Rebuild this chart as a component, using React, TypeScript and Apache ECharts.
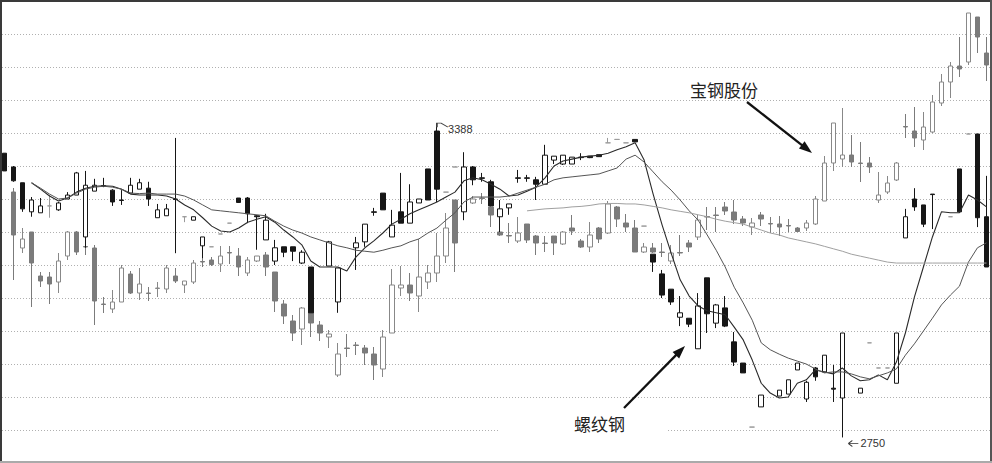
import React, { useEffect, useRef } from "react";
import * as echarts from "echarts";

// 螺纹钢 (rebar futures) daily candles: [open, close, low, high]; null = no candle drawn
const rebarOHLC: (number[] | null)[] = [
  // 0-9
  [3327, 3291, 3291, 3327], [3299, 3271, 3269, 3301], [3267, 3214, 3208, 3267], [3208, 3232, 3198, 3238], [3206, 3220, 3206, 3236],
  [3220, 3220, 3196, 3242], [3212, 3226, 3210, 3228], [3234, 3242, 3234, 3248], [3242, 3287, 3242, 3289], [3157, 3262, 3135, 3291],
  // 10-19
  [3250, 3262, 3250, 3275], [3261, 3260, 3258, 3277], [3252, 3228, 3220, 3254], [3232, 3231, 3222, 3252], [3246, 3262, 3246, 3277],
  [3254, 3267, 3254, 3275], [3256, 3234, 3220, 3269], [3196, 3212, 3196, 3224], [3200, 3214, 3200, 3224], [3234, 3233, 3124, 3358],
  // 20-29
  [3198, 3198, 3187, 3198], [3191, 3198, 3191, 3198], [3139, 3157, 3114, 3157], [3137, 3137, 3137, 3137], [3163, 3163, 3163, 3163],
  [3185, 3185, 3185, 3185], [3236, 3227, 3226, 3236], [3236, 3204, 3185, 3238], [3200, 3198, 3131, 3202], [3151, 3191, 3151, 3204],
  // 30-39
  [3108, 3135, 3100, 3151], [3137, 3126, 3116, 3137], [3137, 3128, 3108, 3137], [3104, 3126, 3102, 3130], [3096, 3003, 3003, 3096],
  null, [3098, 3147, 3098, 3149], [3025, 3094, 3003, 3094], null, [3135, 3145, 3090, 3157],
  // 40-49
  [3147, 3183, 3137, 3183], [3208, 3207, 3200, 3216], [3246, 3212, 3212, 3246], [3157, 3181, 3157, 3212], [3208, 3185, 3185, 3287],
  [3185, 3228, 3185, 3264], [3226, 3234, 3226, 3234], [3295, 3232, 3232, 3295], [3372, 3254, 3228, 3388], [3248, 3248, 3248, 3248],
  // 50-59
  [3299, 3299, 3299, 3299], [3208, 3299, 3191, 3329], [3299, 3273, 3262, 3301], [3277, 3276, 3269, 3287], [3269, 3220, 3220, 3273],
  [3198, 3214, 3167, 3232], [3216, 3224, 3202, 3224], [3277, 3276, 3267, 3293], [3277, 3276, 3269, 3283], [3273, 3264, 3232, 3279],
  // 60-69
  [3264, 3323, 3264, 3344], [3313, 3321, 3305, 3321], [3305, 3323, 3303, 3323], [3305, 3319, 3305, 3319], [3319, 3318, 3313, 3327],
  [3321, 3318, 3317, 3321], [3324, 3320, 3320, 3324], [3348, 3348, 3348, 3358], [3355, 3355, 3355, 3355], [3348, 3348, 3348, 3348],
  // 70-79
  [3355, 3350, 3350, 3355], [3179, 3179, 3179, 3179], [3122, 3106, 3086, 3122], [3082, 3039, 3033, 3090], [3051, 3025, 3019, 3051],
  [2994, 3003, 2976, 3037], [2992, 2980, 2974, 2992], [2930, 3017, 2930, 3043], [3074, 3001, 2962, 3074], [2982, 3019, 2972, 3021],
  // 80-89
  [3013, 2976, 2974, 3037], [2944, 2903, 2895, 2964], [2901, 2881, 2881, 2901], [2771, 2771, 2771, 2771], [2812, 2836, 2812, 2836],
  null, [2834, 2846, 2834, 2846], [2838, 2867, 2838, 2867], [2887, 2901, 2887, 2901], [2828, 2862, 2822, 2865],
  // 90-99
  [2891, 2873, 2865, 2893], [2883, 2917, 2883, 2917], [2850, 2848, 2822, 2897], [2830, 2962, 2750, 2962], null,
  [2840, 2850, 2840, 2850], [2942, 2942, 2942, 2942], [2891, 2891, 2891, 2891], [2891, 2891, 2891, 2891], [2860, 2962, 2860, 2962],
  // 100-109
  [3155, 3198, 3155, 3214], [3234, 3218, 3210, 3256], [3222, 3183, 3177, 3222], [3244, 3243, 3173, 3244], null,
  [3198, 3198, 3198, 3198], [3295, 3208, 3208, 3295], [3366, 3366, 3366, 3366], [3366, 3196, 3177, 3366], [3198, 3096, 3096, 3281],
];

// 宝钢股份 (Baosteel) daily candles: [open, close, low, high]
const baoOHLC: (number[] | null)[] = [
  // 0-9
  null, [6.08, 5.65, 5.2, 6.12], [5.52, 5.61, 5.47, 5.72], [5.68, 5.37, 4.93, 5.68], [5.24, 5.19, 5.13, 5.28],
  [5.23, 5.16, 4.96, 5.28], [5.18, 5.39, 5.07, 5.47], [5.44, 5.68, 5.4, 5.69], [5.68, 5.48, 5.45, 5.69], [5.535, 5.53, 5.45, 5.6],
  // 10-19
  [5.52, 4.99, 4.75, 5.55], [4.96, 4.955, 4.87, 5.03], [4.91, 4.98, 4.87, 5.1], [4.98, 5.32, 4.98, 5.35], [5.26, 5.07, 5.06, 5.29],
  [5.07, 5.16, 5.0, 5.32], [5.07, 5.065, 4.99, 5.13], [5.115, 5.12, 5.03, 5.18], [5.11, 5.32, 5.07, 5.35], [5.24, 5.19, 5.17, 5.32],
  // 20-29
  [5.15, 5.19, 5.07, 5.19], [5.18, 5.37, 5.16, 5.4], [5.385, 5.38, 5.33, 5.43], [5.4, 5.355, 5.34, 5.43], [5.36, 5.44, 5.28, 5.54],
  [5.475, 5.47, 5.36, 5.54], [5.44, 5.33, 5.24, 5.52], [5.27, 5.4, 5.24, 5.43], [5.39, 5.44, 5.38, 5.44], [5.45, 5.33, 5.24, 5.48],
  // 30-39
  [5.28, 4.99, 4.88, 5.28], [4.96, 4.84, 4.76, 5.0], [4.79, 4.67, 4.59, 4.85], [4.71, 4.92, 4.55, 4.93], [4.88, 4.77, 4.63, 4.88],
  [4.75, 4.67, 4.59, 4.79], [4.63, 4.66, 4.52, 4.7], [4.25, 4.46, 4.23, 4.57], [4.52, 4.515, 4.43, 4.66], [4.55, 4.545, 4.45, 4.58],
  // 40-49
  [4.52, 4.47, 4.35, 4.55], [4.46, 4.35, 4.2, 4.53], [4.31, 4.63, 4.23, 4.7], [4.67, 5.15, 4.67, 5.31], [5.12, 5.15, 5.04, 5.34],
  [5.15, 5.07, 4.99, 5.27], [5.04, 5.23, 4.88, 5.61], [5.18, 5.27, 5.11, 5.35], [5.27, 5.44, 5.18, 5.67], [5.44, 5.72, 5.37, 5.87],
  // 50-59
  [6.0, 5.57, 5.28, 6.0], [5.95, 6.0, 5.9, 6.05], [5.97, 6.01, 5.96, 6.04], [6.02, 6.015, 5.96, 6.07], [5.93, 5.85, 5.73, 6.0],
  [5.68, 5.65, 5.64, 5.69], [5.645, 5.64, 5.57, 5.77], [5.59, 5.67, 5.57, 5.83], [5.76, 5.6, 5.57, 5.76], [5.64, 5.57, 5.45, 5.65],
  // 60-69
  [5.57, 5.565, 5.48, 5.64], [5.64, 5.57, 5.45, 5.64], [5.56, 5.68, 5.55, 5.69], [5.72, 5.69, 5.65, 5.85], [5.59, 5.53, 5.52, 5.61],
  [5.53, 5.65, 5.48, 5.78], [5.72, 5.61, 5.57, 5.73], [5.67, 5.96, 5.66, 5.99], [5.93, 5.81, 5.73, 5.94], [5.77, 5.73, 5.68, 5.86],
  // 70-79
  [5.72, 5.48, 5.48, 5.8], [5.48, 5.53, 5.47, 5.57], [5.52, 5.48, 5.47, 5.57], [5.48, 5.475, 5.43, 5.57], [5.39, 5.47, 5.36, 5.55],
  [5.475, 5.47, 5.44, 5.65], [5.57, 5.53, 5.48, 5.6], [5.63, 5.8, 5.6, 5.85], [5.835, 5.83, 5.7, 5.93], [5.85, 5.845, 5.68, 5.93],
  // 80-89
  [5.93, 5.89, 5.85, 5.98], [5.88, 5.8, 5.76, 6.0], [5.81, 5.77, 5.74, 5.84], [5.73, 5.77, 5.65, 5.82], [5.85, 5.81, 5.74, 5.88],
  [5.765, 5.76, 5.67, 5.83], [5.76, 5.73, 5.64, 5.84], [5.745, 5.74, 5.68, 5.81], [5.72, 5.685, 5.68, 5.73], [5.72, 5.77, 5.69, 5.8],
  // 90-99
  [5.76, 6.01, 5.75, 6.04], [5.99, 6.37, 5.99, 6.44], [6.37, 6.77, 6.29, 6.77], [6.41, 6.45, 6.33, 6.92], [6.45, 6.38, 6.33, 6.65],
  [6.37, 6.365, 6.18, 6.58], [6.37, 6.33, 6.27, 6.43], [6.0, 6.05, 5.97, 6.28], [6.08, 6.17, 6.06, 6.24], [6.2, 6.37, 6.19, 6.38],
  // 100-109
  [6.735, 6.73, 6.62, 6.86], [6.69, 6.62, 6.53, 6.93], [6.6, 6.73, 6.5, 6.88], [6.68, 6.98, 6.67, 7.05], [6.97, 7.18, 6.94, 7.26],
  [7.18, 7.34, 7.02, 7.38], [7.34, 7.31, 7.23, 7.63], [7.38, 7.87, 7.35, 7.87], [7.83, 7.63, 7.47, 7.83], [7.47, 7.35, 7.19, 7.63],
];

// 螺纹钢 moving averages
const rebarMA5: (number | null)[] = [
  null, null, null, 3267, 3254, 3240, 3230, 3236, 3248, 3256,
  3260, 3261, 3260, 3254, 3244, 3242, 3242, 3242, 3240, 3234,
  3222, 3212, 3196, 3179, 3169, 3167, 3175, 3187, 3193, 3198,
  3187, 3171, 3157, 3141, 3108, 3096, 3096, 3096, 3088, 3116,
  3135, 3149, 3165, 3183, 3193, 3204, 3212, 3220, 3228, 3238,
  3248, 3271, 3277, 3273, 3264, 3254, 3240, 3242, 3250, 3258,
  3277, 3301, 3311, 3315, 3319, 3321, 3323, 3327, 3334, 3340,
  3348, 3313, 3244, 3181, 3124, 3070, 3037, 3017, 3007, 3003,
  2999, 2974, 2948, 2907, 2860, 2840, 2830, 2832, 2860, 2867,
  2887, 2883, 2879, 2891, 2875, 2865, 2867, 2877, 2867, 2903,
  2962, 3035, 3096, 3157, 3208, 3206, 3206, 3242, 3232, 3218,
];
const rebarMA10: (number | null)[] = [
  null, null, null, 3267, 3256, 3244, 3234, 3236, 3246, 3254,
  3258, 3260, 3258, 3254, 3246, 3245, 3246, 3244, 3244, 3244,
  3240, 3232, 3222, 3212, 3210, 3208, 3206, 3204, 3202, 3200,
  3189, 3179, 3171, 3165, 3157, 3151, 3145, 3139, 3135, 3130,
  3128, 3126, 3130, 3135, 3139, 3147, 3153, 3165, 3175, 3191,
  3206, 3228, 3238, 3238, 3238, 3238, 3240, 3246, 3252, 3258,
  3264, 3273, 3277, 3279, 3281, 3283, 3285, 3291, 3297, 3315,
  3323, 3309, 3289, 3269, 3252, 3232, 3210, 3191, 3161, 3130,
  3096, 3055, 3023, 2988, 2942, 2928, 2919, 2911, 2905, 2899,
  2889, 2881, 2883, 2883, 2879, 2873, 2869, 2875, 2881, 2889,
  2917, 2940, 2966, 2992, 3019, 3039, 3057, 3106, 3135, 3145,
];
const rebarMA60: (number | null)[] = [
  null, null, null, null, null, null, null, null, null, null,
  null, null, null, null, null, null, null, null, null, null,
  null, null, null, null, null, null, null, null, null, null,
  null, null, null, null, null, null, null, null, null, null,
  null, null, null, null, null, null, null, null, null, null,
  null, null, null, null, null, null, null, null, 3210, 3212,
  3214, 3215, 3216, 3218, 3219, 3221, 3224, 3225, 3225, 3224,
  3224, 3222, 3219, 3216, 3212, 3209, 3206, 3202, 3198, 3193,
  3189, 3186, 3183, 3177, 3171, 3165, 3161, 3155, 3151, 3147,
  3143, 3138, 3133, 3128, 3122, 3118, 3114, 3110, 3106, 3104,
  3104, 3104, 3104, 3104, 3104, 3104, 3104, 3104, 3104, 3104,
];

const labelBao = "宝钢股份";
const labelRebar = "螺纹钢";

export default function App() {
  const ref = useRef<HTMLDivElement>(null);

  useEffect(() => {
    document.body.style.margin = "0";
    const chart = echarts.init(ref.current as HTMLDivElement, null, { renderer: "svg" });

    const categories = rebarOHLC.map((_, i) => String(i + 1));
    const blank = ["-", "-", "-", "-"];
    const grey = "#9a9a9a";

    const rebarData = rebarOHLC.map((d) => {
      if (!d) return blank;
      if (d[0] === d[1]) {
        return {
          value: d,
          itemStyle: { color: grey, color0: grey, borderColor: grey, borderColor0: grey, borderColorDoji: grey },
        };
      }
      return d;
    });
    const baoData = baoOHLC.map((d) => (d ? d : blank));

    // peak / trough of the rebar series
    let hiIdx = 0, loIdx = 0;
    rebarOHLC.forEach((d, i) => {
      if (!d) return;
      if (d[3] > (rebarOHLC[hiIdx] as number[])[3]) hiIdx = i;
      if (d[2] < (rebarOHLC[loIdx] as number[])[2]) loIdx = i;
    });
    const hiVal = (rebarOHLC[hiIdx] as number[])[3];
    const loVal = (rebarOHLC[loIdx] as number[])[2];

    const arrow = (x1: number, y1: number, x2: number, y2: number) => {
      const dx = x2 - x1, dy = y2 - y1, L = Math.hypot(dx, dy);
      const ux = dx / L, uy = dy / L;
      const hl = 13, hw = 4.6;
      const bx = x2 - ux * hl, by = y2 - uy * hl;
      const px = -uy, py = ux;
      return [
        { type: "line", shape: { x1, y1, x2: bx + ux * 3, y2: by + uy * 3 }, style: { stroke: "#111", lineWidth: 2.3 }, z: 100 },
        {
          type: "polygon",
          shape: { points: [[x2, y2], [bx + px * hw, by + py * hw], [bx - px * hw, by - py * hw]] },
          style: { fill: "#111" },
          z: 100,
        },
      ];
    };

    const option: any = {
      animation: false,
      backgroundColor: "#fff",
      textStyle: { fontFamily: "Liberation Sans" },
      grid: [
        { left: -4.525, width: 995.5, top: 0, height: 463 },
        { left: 2, right: 2, top: 1.2, height: 463.6 },
      ],
      xAxis: [
        { type: "category", gridIndex: 0, data: categories, show: false, boundaryGap: true },
        { type: "value", gridIndex: 1, min: 0, max: 1, show: false },
      ],
      yAxis: [
        { type: "value", gridIndex: 0, min: 3.37, max: 8, show: false, splitLine: { show: false } },
        { type: "value", gridIndex: 0, min: 2698.11, max: 3638, show: false, splitLine: { show: false } },
        {
          type: "value",
          gridIndex: 1,
          min: 0,
          max: 14,
          interval: 1,
          axisLine: { show: false },
          axisTick: { show: false },
          axisLabel: { show: false },
          splitLine: { show: true, lineStyle: { type: [1, 2], color: "#b0b0b0", width: 1 } },
        },
      ],
      series: [
        {
          type: "candlestick",
          name: labelBao,
          xAxisIndex: 0,
          yAxisIndex: 0,
          barWidth: 5,
          z: 2,
          silent: true,
          data: baoData,
          itemStyle: {
            color: "#fff",
            color0: "#7b7b7b",
            borderColor: "#888",
            borderColor0: "#7b7b7b",
            borderColorDoji: "#888",
            borderWidth: 1,
          },
        },
        {
          type: "candlestick",
          name: labelRebar,
          xAxisIndex: 0,
          yAxisIndex: 1,
          barWidth: 5,
          z: 3,
          silent: true,
          data: rebarData,
          itemStyle: {
            color: "#fff",
            color0: "#161616",
            borderColor: "#161616",
            borderColor0: "#161616",
            borderColorDoji: "#161616",
            borderWidth: 1,
          },
          markPoint: {
            silent: true,
            animation: false,
            data: [
              {
                coord: [hiIdx, hiVal],
                symbol: "path://M0,3L0,0L4,0L11,3",
                symbolSize: [11, 4],
                symbolOffset: [5.5, 2],
                symbolKeepAspect: false,
                itemStyle: { color: "none", borderColor: "#444", borderWidth: 1 },
                label: {
                  show: true,
                  position: "right",
                  distance: 2,
                  offset: [-6, 4],
                  formatter: String(hiVal),
                  color: "#333",
                  fontSize: 11,
                  fontFamily: "Liberation Sans",
                },
              },
              {
                coord: [loIdx, loVal],
                symbol: "path://M0,3L4,0M0,3L4,6M0,3L10,3",
                symbolSize: [10, 6],
                symbolOffset: [11, 6],
                symbolKeepAspect: false,
                itemStyle: { color: "none", borderColor: "#333", borderWidth: 1 },
                label: {
                  show: true,
                  position: "right",
                  distance: 2,
                  offset: [-3, 0],
                  formatter: String(loVal),
                  color: "#333",
                  fontSize: 11,
                  fontFamily: "Liberation Sans",
                },
              },
            ],
          },
        },
        {
          type: "line",
          name: "MA5",
          xAxisIndex: 0,
          yAxisIndex: 1,
          data: rebarMA5.map((v) => (v === null ? "-" : v)),
          symbol: "none",
          silent: true,
          z: 4,
          lineStyle: { width: 1.1, color: "#2a2a2a" },
        },
        {
          type: "line",
          name: "MA10",
          xAxisIndex: 0,
          yAxisIndex: 1,
          data: rebarMA10.map((v) => (v === null ? "-" : v)),
          symbol: "none",
          silent: true,
          z: 4,
          lineStyle: { width: 1, color: "#555" },
        },
        {
          type: "line",
          name: "MA60",
          xAxisIndex: 0,
          yAxisIndex: 1,
          data: rebarMA60.map((v) => (v === null ? "-" : v)),
          symbol: "none",
          silent: true,
          z: 4,
          lineStyle: { width: 1, color: "#a0a0a0" },
        },
      ],
      graphic: [
        { type: "rect", shape: { x: 500, y: 405, width: 168, height: 35 }, style: { fill: "#fff" }, z: 50 },
        {
          type: "text",
          x: 690,
          y: 89,
          style: {
            text: labelBao,
            fontSize: 17,
            fontFamily: "Noto Sans CJK SC",
            fill: "#222",
            align: "left",
            verticalAlign: "middle",
          },
          z: 100,
        },
        {
          type: "text",
          x: 574,
          y: 423,
          style: {
            text: labelRebar,
            fontSize: 17,
            fontFamily: "Noto Sans CJK SC",
            fill: "#222",
            align: "left",
            verticalAlign: "middle",
          },
          z: 100,
        },
        ...arrow(747, 102, 812, 153),
        ...arrow(624, 408, 685, 346),
        { type: "line", shape: { x1: 0, y1: 1, x2: 992, y2: 1 }, style: { stroke: "#3a3a3a", lineWidth: 2 }, z: 120 },
        { type: "line", shape: { x1: 1, y1: 0, x2: 1, y2: 463 }, style: { stroke: "#3a3a3a", lineWidth: 2 }, z: 120 },
        { type: "line", shape: { x1: 991, y1: 0, x2: 991, y2: 463 }, style: { stroke: "#555", lineWidth: 2 }, z: 120 },
        { type: "line", shape: { x1: 0, y1: 462, x2: 992, y2: 462 }, style: { stroke: "#aaa", lineWidth: 2 }, z: 120 },
      ],
    };

    chart.setOption(option);
    return () => {
      chart.dispose();
    };
  }, []);

  return <div ref={ref} style={{ width: 992, height: 463 }} />;
}
